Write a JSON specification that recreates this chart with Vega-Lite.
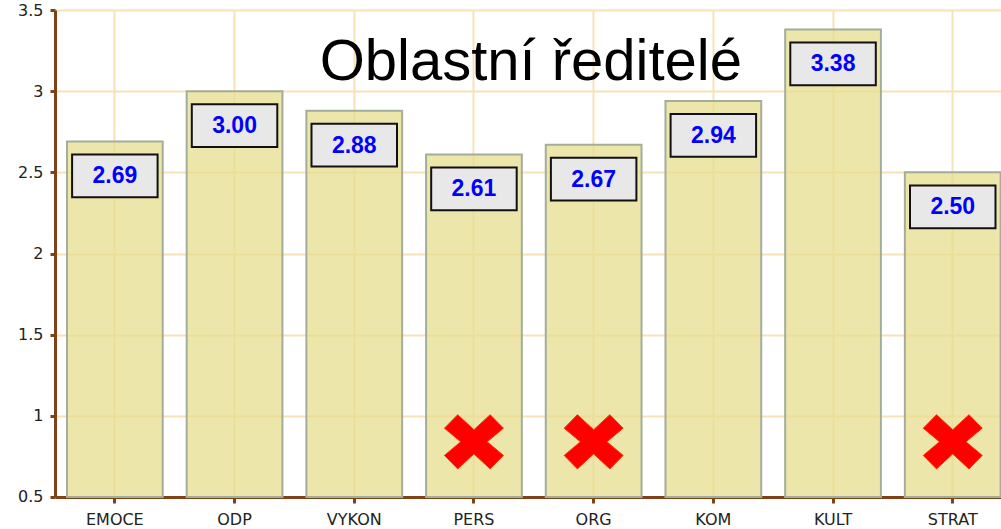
{
  "$schema": "https://vega.github.io/schema/vega-lite/v6.json",
  "autosize": "none",
  "padding": {"left": 55, "top": 10, "right": 0, "bottom": 32},
  "width": 957.6,
  "height": 487,
  "background": "white",
  "title": {
    "text": "Oblastní ředitelé",
    "font": "Liberation Sans, sans-serif",
    "fontSize": 58,
    "fontWeight": "normal",
    "color": "#000000",
    "anchor": "middle",
    "frame": "group",
    "baseline": "alphabetic",
    "offset": -136,
    "dx": -3
  },
  "config": {
    "view": {"stroke": null},
    "axis": {
      "domainColor": "#7f4216",
      "tickColor": "#7f4216",
      "gridColor": "#f6e2b8",
      "gridWidth": 2,
      "labelColor": "#222222",
      "labelFont": "DejaVu Sans",
      "titleFont": "DejaVu Sans"
    }
  },
  "data": {
    "values": [
      {"oblast": "EMOCE", "hodnota": 2.69, "krizek": false},
      {"oblast": "ODP", "hodnota": 3.00, "krizek": false},
      {"oblast": "VYKON", "hodnota": 2.88, "krizek": false},
      {"oblast": "PERS", "hodnota": 2.61, "krizek": true},
      {"oblast": "ORG", "hodnota": 2.67, "krizek": true},
      {"oblast": "KOM", "hodnota": 2.94, "krizek": false},
      {"oblast": "KULT", "hodnota": 3.38, "krizek": false},
      {"oblast": "STRAT", "hodnota": 2.50, "krizek": true}
    ]
  },
  "encoding": {
    "x": {
      "field": "oblast",
      "type": "nominal",
      "sort": null,
      "scale": {"paddingInner": 0.2, "paddingOuter": 0.1},
      "axis": {
        "title": null,
        "labelAngle": 0,
        "labelFontSize": 16,
        "labelPadding": 9,
        "tickSize": 6,
        "tickWidth": 3,
        "domainWidth": 3,
        "grid": true,
        "gridWidth": 2
      }
    }
  },
  "layer": [
    {
      "mark": {
        "type": "bar",
        "fill": "#e6dc8a",
        "fillOpacity": 0.72,
        "stroke": "#a3ae9a",
        "strokeWidth": 2
      },
      "encoding": {
        "y": {
          "field": "hodnota",
          "type": "quantitative",
          "scale": {"domain": [0.5, 3.5], "zero": false, "nice": false},
          "axis": {
            "title": null,
            "values": [0.5, 1, 1.5, 2, 2.5, 3, 3.5],
            "format": "~g",
            "labelFontSize": 16,
            "labelPadding": 7,
            "tickSize": 5,
            "tickWidth": 3,
            "domainWidth": 3,
            "grid": true
          }
        },
        "y2": {"datum": 0.5}
      }
    },
    {
      "mark": {
        "type": "point",
        "shape": "M-1,-0.5L1,-0.5L1,0.5L-1,0.5Z",
        "size": 7310,
        "filled": true,
        "fill": "#e8e8e8",
        "stroke": "#111111",
        "strokeWidth": 2,
        "opacity": 1,
        "yOffset": 34.5
      },
      "encoding": {
        "y": {"field": "hodnota", "type": "quantitative"}
      }
    },
    {
      "mark": {
        "type": "text",
        "font": "Liberation Sans",
        "fontSize": 23,
        "fontWeight": "bold",
        "color": "#0000ff",
        "baseline": "middle",
        "align": "center",
        "yOffset": 35
      },
      "encoding": {
        "y": {"field": "hodnota", "type": "quantitative"},
        "text": {"field": "hodnota", "type": "quantitative", "format": ".2f"}
      }
    },
    {
      "transform": [{"filter": "datum.krizek"}],
      "mark": {
        "type": "point",
        "shape": "M-1,-0.46L-0.55,-0.92L0,-0.41L0.55,-0.92L1,-0.46L0.45,0L1,0.46L0.55,0.92L0,0.41L-0.55,0.92L-1,0.46L-0.45,0Z",
        "size": 3481,
        "filled": true,
        "fill": "#ff0000",
        "stroke": "#ff3300",
        "strokeWidth": 1,
        "opacity": 1
      },
      "encoding": {
        "y": {"datum": 0.84}
      }
    }
  ]
}
